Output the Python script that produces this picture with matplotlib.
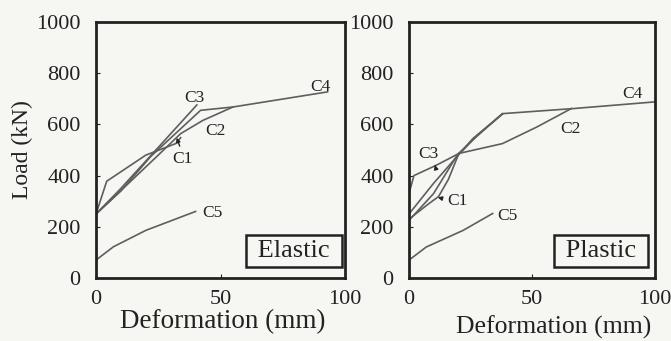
import matplotlib
matplotlib.use('Agg')
from matplotlib import pyplot as plt

plt.rcParams['font.family'] = ['Liberation Serif', 'DejaVu Serif']

# Elastic panel curves (deformation mm, load kN)
el_c1_x = [0, 4.3, 20, 32, 34]
el_c1_y = [250, 378, 480, 525, 548]
el_c2_x = [0, 12, 25, 34, 43, 55]
el_c2_y = [250, 360, 480, 564, 616, 668]
el_c3_x = [0, 10, 25, 40.5]
el_c3_y = [250, 350, 510, 676]
el_c4_x = [0, 10, 22, 42, 55, 93]
el_c4_y = [250, 340, 475, 655, 668, 727]
el_c5_x = [0, 7, 20, 40]
el_c5_y = [70, 122, 186, 260]

# Plastic panel curves
pl_c1_x = [0, 8, 12, 16, 20, 26, 38]
pl_c1_y = [230, 290, 318, 385, 480, 545, 640]
pl_c2_x = [0, 10, 20, 38, 52, 66]
pl_c2_y = [225, 330, 486, 525, 590, 662]
pl_c3_x = [0, 2, 11, 20, 26, 38]
pl_c3_y = [330, 400, 440, 485, 540, 642]
pl_c4_x = [0, 10, 20, 28, 38, 67, 100]
pl_c4_y = [250, 370, 480, 560, 642, 662, 688]
pl_c5_x = [0.7, 7, 22, 34]
pl_c5_y = [75, 121, 186, 252]

line_color = '#5e5e5e'
ink = '#222222'
bg = '#f6f6f3'

fig = plt.figure(figsize=(6.71, 3.41), dpi=100, facecolor=bg)
ax1 = fig.add_axes([96 / 671, 63 / 341, 249 / 671, 256 / 341])
ax2 = fig.add_axes([409 / 671, 63 / 341, 246 / 671, 256 / 341])

for ax in (ax1, ax2):
    ax.set_facecolor(bg)
    ax.set_xlim(0, 100)
    ax.set_ylim(0, 1000)
    ax.set_xticks([0, 50, 100])
    ax.set_yticks([0, 200, 400, 600, 800, 1000])
    ax.tick_params(direction='in', length=3, width=0.8, labelsize=16, colors=ink)
    ax.tick_params(axis='y', pad=11)
    ax.tick_params(axis='x', pad=9)
    for s in ax.spines.values():
        s.set_linewidth(2)
        s.set_color(ink)

arrow = dict(arrowstyle='-|>', color=ink, lw=1, mutation_scale=6)
lab = dict(fontsize=12.5, color=ink)
box = dict(boxstyle='square,pad=0.2', fc=bg, ec=ink, lw=1.8)

# Elastic
for xs, ys in [(el_c1_x, el_c1_y), (el_c2_x, el_c2_y), (el_c3_x, el_c3_y),
               (el_c4_x, el_c4_y), (el_c5_x, el_c5_y)]:
    ax1.plot(xs, ys, color=line_color, lw=1.2)
ax1.text(86, 730, 'C4', **lab)
ax1.text(35.5, 688, 'C3', **lab)
ax1.text(44, 559, 'C2', **lab)
ax1.text(30.5, 450, 'C1', **lab)
ax1.annotate('', xy=(32, 558), xytext=(34, 505), arrowprops=arrow)
ax1.text(42.5, 238, 'C5', **lab)
ax1.text(0.965, 0.105, ' Elastic ', transform=ax1.transAxes, ha='right', va='center',
         fontsize=19, color=ink, bbox=box)
ax1.set_ylabel('Load (kN)', fontsize=17, color=ink)
ax1.yaxis.set_label_coords(-(96 - 33) / 249, 0.5)
ax1.set_xlabel('Deformation (mm)', fontsize=19.5, color=ink, va='center')
ax1.xaxis.set_label_coords((223 - 96) / 249, -44 / 256)

# Plastic
for xs, ys in [(pl_c1_x, pl_c1_y), (pl_c2_x, pl_c2_y), (pl_c3_x, pl_c3_y),
               (pl_c4_x, pl_c4_y), (pl_c5_x, pl_c5_y)]:
    ax2.plot(xs, ys, color=line_color, lw=1.2)
ax2.text(86.5, 703, 'C4', **lab)
ax2.text(61.4, 566, 'C2', **lab)
ax2.text(3.7, 469, 'C3', **lab)
ax2.annotate('', xy=(10.2, 452), xytext=(11, 425), arrowprops=arrow)
ax2.text(15.4, 285, 'C1', **lab)
ax2.annotate('', xy=(10.6, 318), xytext=(14.5, 308), arrowprops=arrow)
ax2.text(35.8, 227, 'C5', **lab)
ax2.text(0.952, 0.105, ' Plastic ', transform=ax2.transAxes, ha='right', va='center',
         fontsize=19, color=ink, bbox=box)
ax2.set_xlabel('Deformation (mm)', fontsize=18.5, color=ink, va='center')
ax2.xaxis.set_label_coords((554 - 409) / 246, -49 / 256)

fig.savefig('out.png', dpi=100, facecolor=bg)
